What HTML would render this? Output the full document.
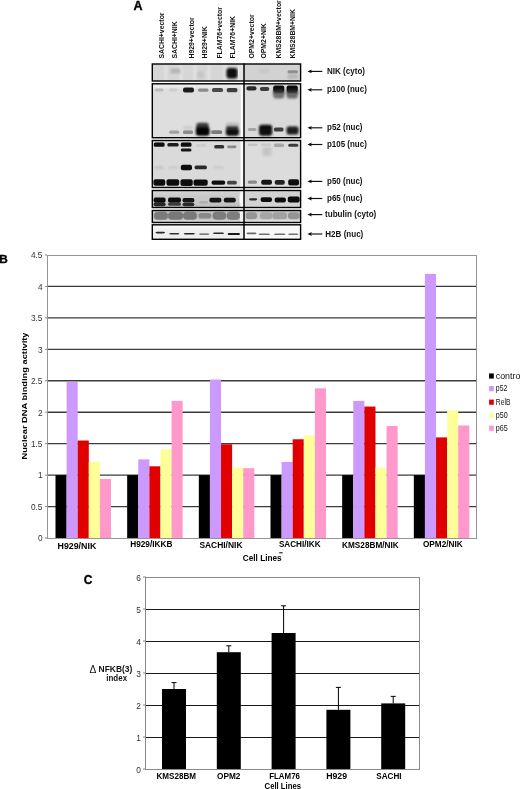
<!DOCTYPE html>
<html><head><meta charset="utf-8"><style>
html,body{margin:0;padding:0;background:#fff;}
body{width:520px;height:789px;overflow:hidden;}
svg{display:block;font-family:"Liberation Sans", sans-serif;will-change:transform;}
</style></head><body>
<svg width="520" height="789" viewBox="0 0 520 789">
<line x1="47" y1="506.56" x2="477" y2="506.56" stroke="#3c3c3c" stroke-width="1.35"/>
<line x1="47" y1="475.11" x2="477" y2="475.11" stroke="#3c3c3c" stroke-width="1.35"/>
<line x1="47" y1="443.67" x2="477" y2="443.67" stroke="#3c3c3c" stroke-width="1.35"/>
<line x1="47" y1="412.22" x2="477" y2="412.22" stroke="#3c3c3c" stroke-width="1.35"/>
<line x1="47" y1="380.78" x2="477" y2="380.78" stroke="#3c3c3c" stroke-width="1.35"/>
<line x1="47" y1="349.33" x2="477" y2="349.33" stroke="#3c3c3c" stroke-width="1.35"/>
<line x1="47" y1="317.89" x2="477" y2="317.89" stroke="#3c3c3c" stroke-width="1.35"/>
<line x1="47" y1="286.44" x2="477" y2="286.44" stroke="#3c3c3c" stroke-width="1.35"/>
<rect x="55.50" y="475.11" width="11.10" height="62.89" fill="#000000"/>
<rect x="66.60" y="382.04" width="11.10" height="155.96" fill="#cc99ff"/>
<rect x="77.70" y="440.52" width="11.10" height="97.48" fill="#e00000"/>
<rect x="88.80" y="461.90" width="11.10" height="76.10" fill="#ffff99"/>
<rect x="99.90" y="478.88" width="11.10" height="59.12" fill="#ff99cc"/>
<text x="57.50" y="549.00" font-size="8.4" font-weight="bold" textLength="38.8" lengthAdjust="spacingAndGlyphs">H929/NIK</text>
<rect x="127.17" y="475.11" width="11.10" height="62.89" fill="#000000"/>
<rect x="138.27" y="459.39" width="11.10" height="78.61" fill="#cc99ff"/>
<rect x="149.37" y="466.31" width="11.10" height="71.69" fill="#e00000"/>
<rect x="160.47" y="449.33" width="11.10" height="88.67" fill="#ffff99"/>
<rect x="171.57" y="400.90" width="11.10" height="137.10" fill="#ff99cc"/>
<text x="130.20" y="547.40" font-size="8.4" font-weight="bold" textLength="42.3" lengthAdjust="spacingAndGlyphs">H929/IKKB</text>
<rect x="198.83" y="475.11" width="11.10" height="62.89" fill="#000000"/>
<rect x="209.93" y="379.52" width="11.10" height="158.48" fill="#cc99ff"/>
<rect x="221.03" y="444.30" width="11.10" height="93.70" fill="#e00000"/>
<rect x="232.13" y="467.56" width="11.10" height="70.44" fill="#ffff99"/>
<rect x="243.23" y="468.19" width="11.10" height="69.81" fill="#ff99cc"/>
<text x="199.40" y="548.20" font-size="8.4" font-weight="bold" textLength="43.1" lengthAdjust="spacingAndGlyphs">SACHI/NIK</text>
<rect x="270.50" y="475.11" width="11.10" height="62.89" fill="#000000"/>
<rect x="281.60" y="461.90" width="11.10" height="76.10" fill="#cc99ff"/>
<rect x="292.70" y="439.26" width="11.10" height="98.74" fill="#e00000"/>
<rect x="303.80" y="435.49" width="11.10" height="102.51" fill="#ffff99"/>
<rect x="314.90" y="388.32" width="11.10" height="149.68" fill="#ff99cc"/>
<text x="278.90" y="546.80" font-size="8.4" font-weight="bold" textLength="41.7" lengthAdjust="spacingAndGlyphs">SACHI/IKK</text>
<rect x="342.17" y="475.11" width="11.10" height="62.89" fill="#000000"/>
<rect x="353.27" y="400.90" width="11.10" height="137.10" fill="#cc99ff"/>
<rect x="364.37" y="406.56" width="11.10" height="131.44" fill="#e00000"/>
<rect x="375.47" y="467.56" width="11.10" height="70.44" fill="#ffff99"/>
<rect x="386.57" y="426.06" width="11.10" height="111.94" fill="#ff99cc"/>
<text x="342.10" y="548.20" font-size="8.4" font-weight="bold" textLength="56.6" lengthAdjust="spacingAndGlyphs">KMS28BM/NIK</text>
<rect x="413.83" y="475.11" width="11.10" height="62.89" fill="#000000"/>
<rect x="424.93" y="273.87" width="11.10" height="264.13" fill="#cc99ff"/>
<rect x="436.03" y="437.38" width="11.10" height="100.62" fill="#e00000"/>
<rect x="447.13" y="410.34" width="11.10" height="127.66" fill="#ffff99"/>
<rect x="458.23" y="425.43" width="11.10" height="112.57" fill="#ff99cc"/>
<text x="422.90" y="547.30" font-size="8.4" font-weight="bold" textLength="39.8" lengthAdjust="spacingAndGlyphs">OPM2/NIK</text>
<rect x="47.5" y="255.5" width="429" height="283" fill="none" stroke="#959595" stroke-width="1"/>
<line x1="45" y1="538.00" x2="47" y2="538.00" stroke="#888" stroke-width="1"/>
<text x="42.5" y="541.30" font-size="8.3" fill="#333" text-anchor="end">0</text>
<line x1="45" y1="506.56" x2="47" y2="506.56" stroke="#888" stroke-width="1"/>
<text x="42.5" y="509.86" font-size="8.3" fill="#333" text-anchor="end">0.5</text>
<line x1="45" y1="475.11" x2="47" y2="475.11" stroke="#888" stroke-width="1"/>
<text x="42.5" y="478.41" font-size="8.3" fill="#333" text-anchor="end">1</text>
<line x1="45" y1="443.67" x2="47" y2="443.67" stroke="#888" stroke-width="1"/>
<text x="42.5" y="446.97" font-size="8.3" fill="#333" text-anchor="end">1.5</text>
<line x1="45" y1="412.22" x2="47" y2="412.22" stroke="#888" stroke-width="1"/>
<text x="42.5" y="415.52" font-size="8.3" fill="#333" text-anchor="end">2</text>
<line x1="45" y1="380.78" x2="47" y2="380.78" stroke="#888" stroke-width="1"/>
<text x="42.5" y="384.08" font-size="8.3" fill="#333" text-anchor="end">2.5</text>
<line x1="45" y1="349.33" x2="47" y2="349.33" stroke="#888" stroke-width="1"/>
<text x="42.5" y="352.63" font-size="8.3" fill="#333" text-anchor="end">3</text>
<line x1="45" y1="317.89" x2="47" y2="317.89" stroke="#888" stroke-width="1"/>
<text x="42.5" y="321.19" font-size="8.3" fill="#333" text-anchor="end">3.5</text>
<line x1="45" y1="286.44" x2="47" y2="286.44" stroke="#888" stroke-width="1"/>
<text x="42.5" y="289.74" font-size="8.3" fill="#333" text-anchor="end">4</text>
<line x1="45" y1="255.00" x2="47" y2="255.00" stroke="#888" stroke-width="1"/>
<text x="42.5" y="258.30" font-size="8.3" fill="#333" text-anchor="end">4.5</text>
<text transform="translate(27,396) rotate(-90)" font-size="8" font-weight="bold" text-anchor="middle" textLength="127" lengthAdjust="spacingAndGlyphs">Nuclear DNA binding activity</text>
<text x="242.8" y="560.6" font-size="8.3" font-weight="bold" textLength="38.8" lengthAdjust="spacingAndGlyphs">Cell Lines</text>
<rect x="279.2" y="552.1" width="3.4" height="1.3" fill="#333"/>
<text x="-0.7" y="262.6" font-size="11.8" font-weight="bold" stroke="#000" stroke-width="0.35">B</text>
<rect x="489.1" y="373.4" width="4.7" height="5.2" fill="#000000"/>
<text x="495.8" y="378.5" font-size="8.6" fill="#111" textLength="26.5" lengthAdjust="spacingAndGlyphs">control</text>
<rect x="489.1" y="386.0" width="4.7" height="5.2" fill="#cc99ff"/>
<text x="495.8" y="391.1" font-size="8.6" fill="#111" textLength="11.5" lengthAdjust="spacingAndGlyphs">p52</text>
<rect x="489.1" y="399.6" width="4.7" height="5.2" fill="#e00000"/>
<text x="495.8" y="404.7" font-size="8.6" fill="#111" textLength="14.6" lengthAdjust="spacingAndGlyphs">RelB</text>
<rect x="489.1" y="412.9" width="4.7" height="5.2" fill="#ffff99"/>
<text x="495.8" y="418.0" font-size="8.6" fill="#111" textLength="11.9" lengthAdjust="spacingAndGlyphs">p50</text>
<rect x="489.1" y="425.7" width="4.7" height="5.2" fill="#ff99cc"/>
<text x="495.8" y="430.8" font-size="8.6" fill="#111" textLength="11.9" lengthAdjust="spacingAndGlyphs">p65</text>
<line x1="146" y1="737.50" x2="420" y2="737.50" stroke="#1a1a1a" stroke-width="1.1"/>
<line x1="146" y1="705.50" x2="420" y2="705.50" stroke="#1a1a1a" stroke-width="1.1"/>
<line x1="146" y1="673.50" x2="420" y2="673.50" stroke="#1a1a1a" stroke-width="1.1"/>
<line x1="146" y1="641.50" x2="420" y2="641.50" stroke="#1a1a1a" stroke-width="1.1"/>
<line x1="146" y1="609.50" x2="420" y2="609.50" stroke="#1a1a1a" stroke-width="1.1"/>
<line x1="174.00" y1="689.00" x2="174.00" y2="682.60" stroke="#000" stroke-width="1"/>
<line x1="171.50" y1="682.60" x2="176.50" y2="682.60" stroke="#000" stroke-width="1"/>
<rect x="162.00" y="689.00" width="24" height="80.00" fill="#000"/>
<text x="156.50" y="779.4" font-size="8.2" font-weight="bold" textLength="39.5" lengthAdjust="spacingAndGlyphs">KMS28BM</text>
<line x1="228.80" y1="652.20" x2="228.80" y2="645.80" stroke="#000" stroke-width="1"/>
<line x1="226.30" y1="645.80" x2="231.30" y2="645.80" stroke="#000" stroke-width="1"/>
<rect x="216.80" y="652.20" width="24" height="116.80" fill="#000"/>
<text x="217.00" y="779.4" font-size="8.2" font-weight="bold" textLength="23.4" lengthAdjust="spacingAndGlyphs">OPM2</text>
<line x1="283.60" y1="633.00" x2="283.60" y2="605.80" stroke="#000" stroke-width="1"/>
<line x1="281.10" y1="605.80" x2="286.10" y2="605.80" stroke="#000" stroke-width="1"/>
<rect x="271.60" y="633.00" width="24" height="136.00" fill="#000"/>
<text x="269.20" y="779.4" font-size="8.2" font-weight="bold" textLength="30.8" lengthAdjust="spacingAndGlyphs">FLAM76</text>
<line x1="338.40" y1="709.80" x2="338.40" y2="687.40" stroke="#000" stroke-width="1"/>
<line x1="335.90" y1="687.40" x2="340.90" y2="687.40" stroke="#000" stroke-width="1"/>
<rect x="326.40" y="709.80" width="24" height="59.20" fill="#000"/>
<text x="326.20" y="779.4" font-size="8.2" font-weight="bold" textLength="20.9" lengthAdjust="spacingAndGlyphs">H929</text>
<line x1="393.20" y1="703.40" x2="393.20" y2="696.36" stroke="#000" stroke-width="1"/>
<line x1="390.70" y1="696.36" x2="395.70" y2="696.36" stroke="#000" stroke-width="1"/>
<rect x="381.20" y="703.40" width="24" height="65.60" fill="#000"/>
<text x="376.30" y="779.4" font-size="8.2" font-weight="bold" textLength="25.2" lengthAdjust="spacingAndGlyphs">SACHI</text>
<rect x="145.5" y="577.5" width="274" height="192" fill="none" stroke="#8a8a8a" stroke-width="1"/>
<line x1="143" y1="769.00" x2="146" y2="769.00" stroke="#888" stroke-width="1"/>
<text x="141" y="772.80" font-size="8.4" fill="#333" text-anchor="end">0</text>
<line x1="143" y1="737.00" x2="146" y2="737.00" stroke="#888" stroke-width="1"/>
<text x="141" y="740.80" font-size="8.4" fill="#333" text-anchor="end">1</text>
<line x1="143" y1="705.00" x2="146" y2="705.00" stroke="#888" stroke-width="1"/>
<text x="141" y="708.80" font-size="8.4" fill="#333" text-anchor="end">2</text>
<line x1="143" y1="673.00" x2="146" y2="673.00" stroke="#888" stroke-width="1"/>
<text x="141" y="676.80" font-size="8.4" fill="#333" text-anchor="end">3</text>
<line x1="143" y1="641.00" x2="146" y2="641.00" stroke="#888" stroke-width="1"/>
<text x="141" y="644.80" font-size="8.4" fill="#333" text-anchor="end">4</text>
<line x1="143" y1="609.00" x2="146" y2="609.00" stroke="#888" stroke-width="1"/>
<text x="141" y="612.80" font-size="8.4" fill="#333" text-anchor="end">5</text>
<line x1="143" y1="577.00" x2="146" y2="577.00" stroke="#888" stroke-width="1"/>
<text x="141" y="580.80" font-size="8.4" fill="#333" text-anchor="end">6</text>
<text x="264.6" y="789" font-size="8.2" font-weight="bold" textLength="36.4" lengthAdjust="spacingAndGlyphs">Cell Lines</text>
<text x="83.8" y="584" font-size="12" font-weight="bold" stroke="#000" stroke-width="0.35">C</text>
<text x="89.6" y="672.7" font-size="10.2" fill="#111">&#916;</text>
<text x="98.6" y="671.6" font-size="8.3" font-weight="bold" textLength="33.7" lengthAdjust="spacingAndGlyphs" fill="#111">NFKB(3)</text>
<text x="106.3" y="680.8" font-size="8.3" font-weight="bold" textLength="20.8" lengthAdjust="spacingAndGlyphs" fill="#111">index</text>
<text x="133.4" y="9.8" font-size="12.5" font-weight="bold" stroke="#000" stroke-width="0.35">A</text>
<defs>
<filter id="bl1" x="-50%" y="-100%" width="200%" height="300%"><feGaussianBlur stdDeviation="0.72"/></filter>
<filter id="bl2" x="-50%" y="-100%" width="200%" height="300%"><feGaussianBlur stdDeviation="1.3"/></filter>
<filter id="bl3" x="-50%" y="-100%" width="200%" height="300%"><feGaussianBlur stdDeviation="1.6"/></filter>
</defs>
<clipPath id="cpL0"><rect x="152.3" y="64.0" width="91.69999999999999" height="17.0"/></clipPath>
<clipPath id="cpR0"><rect x="244.0" y="64.0" width="56.60000000000002" height="17.0"/></clipPath>
<clipPath id="cpL1"><rect x="152.3" y="83.8" width="91.69999999999999" height="53.89999999999999"/></clipPath>
<clipPath id="cpR1"><rect x="244.0" y="83.8" width="56.60000000000002" height="53.89999999999999"/></clipPath>
<clipPath id="cpL2"><rect x="152.3" y="140.5" width="91.69999999999999" height="47.0"/></clipPath>
<clipPath id="cpR2"><rect x="244.0" y="140.5" width="56.60000000000002" height="47.0"/></clipPath>
<clipPath id="cpL3"><rect x="152.3" y="190.5" width="91.69999999999999" height="17.0"/></clipPath>
<clipPath id="cpR3"><rect x="244.0" y="190.5" width="56.60000000000002" height="17.0"/></clipPath>
<clipPath id="cpL4"><rect x="152.3" y="210.5" width="91.69999999999999" height="12.0"/></clipPath>
<clipPath id="cpR4"><rect x="244.0" y="210.5" width="56.60000000000002" height="12.0"/></clipPath>
<clipPath id="cpL5"><rect x="152.3" y="224.8" width="91.69999999999999" height="14.5"/></clipPath>
<clipPath id="cpR5"><rect x="244.0" y="224.8" width="56.60000000000002" height="14.5"/></clipPath>
<g clip-path="url(#cpL0)">
<rect x="152.3" y="64.0" width="91.69999999999999" height="17.0" fill="#d6d6d6"/>
<rect x="164.5" y="64.0" width="3.0" height="17.0" rx="0" fill="#e2e2e2" filter="url(#bl2)"/>
<rect x="179.5" y="64.0" width="3.0" height="17.0" rx="0" fill="#e2e2e2" filter="url(#bl2)"/>
<rect x="193.5" y="64.0" width="3.0" height="17.0" rx="0" fill="#e2e2e2" filter="url(#bl2)"/>
<rect x="207.5" y="64.0" width="3.0" height="17.0" rx="0" fill="#e2e2e2" filter="url(#bl2)"/>
<rect x="223.5" y="64.0" width="3.0" height="17.0" rx="0" fill="#e2e2e2" filter="url(#bl2)"/>
<rect x="170.5" y="68.5" width="10.0" height="5.0" rx="1.5" fill="#b6b6b6" filter="url(#bl2)"/>
<rect x="197.5" y="71.5" width="6.5" height="7.0" rx="1.5" fill="#c4c4c4" filter="url(#bl2)"/>
<rect x="226.5" y="68.0" width="11.0" height="10.5" rx="3" fill="#0c0c0c" filter="url(#bl2)"/>
<rect x="238.0" y="64.0" width="6.0" height="17.0" rx="0" fill="#e4e4e4" filter="url(#bl1)"/>
</g>
<g clip-path="url(#cpR0)">
<rect x="244.0" y="64.0" width="56.60000000000002" height="17.0" fill="#d2d2d2"/>
<rect x="287.5" y="70.3" width="10.5" height="3.2" rx="1.5" fill="#8e8e8e" filter="url(#bl1)"/>
<rect x="287.5" y="74.0" width="10.5" height="5.0" rx="1.5" fill="#b8b8b8" filter="url(#bl2)"/>
<rect x="259.0" y="69.0" width="11.0" height="4.0" rx="1.5" fill="#c8c8c8" filter="url(#bl2)"/>
</g>
<g clip-path="url(#cpL1)">
<rect x="152.3" y="83.8" width="91.69999999999999" height="53.89999999999999" fill="#dedede"/>
<rect x="152.0" y="83.5" width="92.0" height="4.5" rx="0" fill="#ececec" filter="url(#bl2)"/>
<rect x="240.8" y="83.0" width="3.2" height="55.0" rx="0" fill="#fafafa" filter="url(#bl1)"/>
<rect x="154.5" y="88.5" width="9.0" height="3.0" rx="1.5" fill="#bcbcbc" filter="url(#bl1)"/>
<rect x="169.0" y="88.5" width="8.5" height="3.0" rx="1.5" fill="#cecece" filter="url(#bl1)"/>
<rect x="183.0" y="87.5" width="11.0" height="5.0" rx="2" fill="#1e1e1e" filter="url(#bl1)"/>
<rect x="198.0" y="88.5" width="10.5" height="3.3" rx="1.5" fill="#8c8c8c" filter="url(#bl1)"/>
<rect x="212.0" y="88.0" width="11.0" height="4.0" rx="1.5" fill="#4a4a4a" filter="url(#bl1)"/>
<rect x="226.8" y="88.0" width="10.6" height="4.2" rx="1.5" fill="#404040" filter="url(#bl1)"/>
<rect x="169.2" y="130.5" width="10.1" height="3.3" rx="1.5" fill="#a0a0a0" filter="url(#bl1)"/>
<rect x="183.0" y="130.3" width="10.0" height="3.7" rx="1.5" fill="#8c8c8c" filter="url(#bl1)"/>
<rect x="183.0" y="126.0" width="10.0" height="3.5" rx="1.5" fill="#cccccc" filter="url(#bl2)"/>
<rect x="196.2" y="122.8" width="12.6" height="7.2" rx="3" fill="#3a3a3a" filter="url(#bl2)"/>
<rect x="195.8" y="127.2" width="13.8" height="8.6" rx="3" fill="#050505" filter="url(#bl2)"/>
<rect x="211.2" y="130.3" width="11.0" height="3.7" rx="1.5" fill="#7c7c7c" filter="url(#bl1)"/>
<rect x="226.2" y="125.0" width="12.2" height="6.0" rx="2" fill="#484848" filter="url(#bl2)"/>
<rect x="225.8" y="128.8" width="13.2" height="7.0" rx="3" fill="#080808" filter="url(#bl2)"/>
<rect x="226.0" y="122.5" width="12.6" height="3.0" rx="1.5" fill="#bdbdbd" filter="url(#bl2)"/>
</g>
<g clip-path="url(#cpR1)">
<rect x="244.0" y="83.8" width="56.60000000000002" height="53.89999999999999" fill="#dadada"/>
<rect x="246.4" y="86.2" width="10.1" height="4.3" rx="2" fill="#2c2c2c" filter="url(#bl1)"/>
<rect x="259.9" y="87.0" width="9.4" height="4.0" rx="2" fill="#3c3c3c" filter="url(#bl1)"/>
<rect x="273.2" y="85.6" width="11.1" height="6.4" rx="2" fill="#101010" filter="url(#bl1)"/>
<rect x="273.2" y="89.5" width="11.1" height="5.5" rx="2" fill="#2c2c2c" filter="url(#bl2)"/>
<rect x="273.4" y="93.0" width="10.7" height="5.5" rx="2" fill="#707070" filter="url(#bl2)"/>
<rect x="286.6" y="85.6" width="11.2" height="6.4" rx="2" fill="#0c0c0c" filter="url(#bl1)"/>
<rect x="286.6" y="89.5" width="11.2" height="5.5" rx="2" fill="#262626" filter="url(#bl2)"/>
<rect x="286.8" y="93.0" width="10.8" height="5.5" rx="2" fill="#6a6a6a" filter="url(#bl2)"/>
<rect x="247.8" y="128.0" width="8.7" height="3.0" rx="1.5" fill="#a4a4a4" filter="url(#bl1)"/>
<rect x="259.0" y="124.8" width="13.2" height="11.0" rx="3" fill="#080808" filter="url(#bl2)"/>
<rect x="274.0" y="127.5" width="9.5" height="4.0" rx="1.5" fill="#3c3c3c" filter="url(#bl1)"/>
<rect x="286.6" y="126.4" width="11.9" height="8.0" rx="2" fill="#1c1c1c" filter="url(#bl2)"/>
</g>
<g clip-path="url(#cpL2)">
<rect x="152.3" y="140.5" width="91.69999999999999" height="47.0" fill="#dadada"/>
<rect x="240.5" y="140.0" width="3.5" height="48.0" rx="0" fill="#fafafa" filter="url(#bl1)"/>
<rect x="153.8" y="142.6" width="10.8" height="4.2" rx="1.5" fill="#0c0c0c" filter="url(#bl1)"/>
<rect x="167.3" y="142.9" width="11.4" height="3.7" rx="1.5" fill="#1e1e1e" filter="url(#bl1)"/>
<rect x="180.8" y="142.6" width="10.7" height="4.2" rx="1.5" fill="#0c0c0c" filter="url(#bl1)"/>
<rect x="180.8" y="148.6" width="10.7" height="3.0" rx="1.5" fill="#161616" filter="url(#bl1)"/>
<rect x="196.0" y="144.0" width="10.0" height="3.0" rx="1.5" fill="#cccccc" filter="url(#bl1)"/>
<rect x="214.2" y="145.0" width="10.0" height="3.6" rx="1.5" fill="#333333" filter="url(#bl1)"/>
<rect x="227.0" y="145.4" width="9.5" height="2.8" rx="1.5" fill="#888888" filter="url(#bl1)"/>
<rect x="154.0" y="166.0" width="10.0" height="3.0" rx="1.5" fill="#c6c6c6" filter="url(#bl2)"/>
<rect x="168.0" y="166.0" width="10.0" height="3.0" rx="1.5" fill="#cbcbcb" filter="url(#bl2)"/>
<rect x="180.8" y="164.8" width="11.2" height="5.4" rx="2" fill="#0e0e0e" filter="url(#bl1)"/>
<rect x="194.6" y="165.6" width="12.3" height="3.6" rx="1.5" fill="#2a2a2a" filter="url(#bl1)"/>
<rect x="213.0" y="166.0" width="11.0" height="3.0" rx="1.5" fill="#cccccc" filter="url(#bl2)"/>
<rect x="153.5" y="179.2" width="11.7" height="6.6" rx="2" fill="#0a0a0a" filter="url(#bl1)"/>
<rect x="166.5" y="179.2" width="12.7" height="6.6" rx="2" fill="#0c0c0c" filter="url(#bl1)"/>
<rect x="180.5" y="179.2" width="12.2" height="6.8" rx="2" fill="#0a0a0a" filter="url(#bl1)"/>
<rect x="193.5" y="179.4" width="14.2" height="6.4" rx="2" fill="#101010" filter="url(#bl1)"/>
<rect x="211.5" y="180.5" width="13.7" height="4.2" rx="2" fill="#0e0e0e" filter="url(#bl1)"/>
<rect x="227.0" y="180.8" width="9.8" height="3.8" rx="1.5" fill="#444444" filter="url(#bl1)"/>
</g>
<g clip-path="url(#cpR2)">
<rect x="244.0" y="140.5" width="56.60000000000002" height="47.0" fill="#dcdcdc"/>
<rect x="247.8" y="143.4" width="9.4" height="2.7" rx="1.5" fill="#c2c2c2" filter="url(#bl1)"/>
<rect x="261.0" y="143.6" width="10.0" height="2.4" rx="1.5" fill="#cacaca" filter="url(#bl1)"/>
<rect x="262.6" y="147.0" width="8.7" height="9.0" rx="1.5" fill="#c4c4c4" filter="url(#bl3)"/>
<rect x="274.0" y="143.5" width="10.1" height="3.5" rx="1.5" fill="#a8a8a8" filter="url(#bl1)"/>
<rect x="288.2" y="143.8" width="10.1" height="3.0" rx="1.5" fill="#3e3e3e" filter="url(#bl1)"/>
<rect x="247.8" y="180.4" width="9.2" height="3.4" rx="1.5" fill="#888888" filter="url(#bl1)"/>
<rect x="261.2" y="179.7" width="10.8" height="5.0" rx="2" fill="#181818" filter="url(#bl1)"/>
<rect x="274.7" y="179.9" width="10.1" height="4.8" rx="2" fill="#222222" filter="url(#bl1)"/>
<rect x="288.2" y="179.2" width="10.8" height="6.3" rx="2" fill="#111111" filter="url(#bl1)"/>
</g>
<g clip-path="url(#cpL3)">
<rect x="152.3" y="190.5" width="91.69999999999999" height="17.0" fill="#c9c9c9"/>
<rect x="239.5" y="190.0" width="4.5" height="18.0" rx="0" fill="#fafafa" filter="url(#bl1)"/>
<rect x="152.0" y="190.0" width="88.0" height="4.5" rx="0" fill="#d2d2d2" filter="url(#bl2)"/>
<rect x="152.0" y="203.0" width="88.0" height="5.0" rx="0" fill="#c0c0c0" filter="url(#bl2)"/>
<rect x="153.6" y="197.6" width="12.0" height="5.2" rx="2" fill="#0e0e0e" filter="url(#bl1)"/>
<rect x="153.6" y="202.5" width="12.0" height="3.7" rx="2" fill="#262626" filter="url(#bl1)"/>
<rect x="168.0" y="197.6" width="13.0" height="5.2" rx="2" fill="#0e0e0e" filter="url(#bl1)"/>
<rect x="168.0" y="202.5" width="13.0" height="3.3" rx="2" fill="#3a3a3a" filter="url(#bl1)"/>
<rect x="182.5" y="198.0" width="11.9" height="4.4" rx="2" fill="#121212" filter="url(#bl1)"/>
<rect x="182.5" y="202.8" width="11.9" height="3.4" rx="2" fill="#2a2a2a" filter="url(#bl1)"/>
<rect x="199.0" y="201.0" width="9.0" height="2.5" rx="1.5" fill="#b0b0b0" filter="url(#bl1)"/>
<rect x="209.4" y="197.8" width="12.0" height="4.8" rx="2" fill="#121212" filter="url(#bl1)"/>
<rect x="223.8" y="197.8" width="12.0" height="4.8" rx="2" fill="#121212" filter="url(#bl1)"/>
</g>
<g clip-path="url(#cpR3)">
<rect x="244.0" y="190.5" width="56.60000000000002" height="17.0" fill="#d2d2d2"/>
<rect x="249.1" y="198.2" width="8.1" height="2.2" rx="1.5" fill="#2a2a2a" filter="url(#bl1)"/>
<rect x="260.6" y="197.2" width="11.4" height="4.8" rx="2" fill="#0e0e0e" filter="url(#bl1)"/>
<rect x="274.7" y="197.5" width="11.2" height="5.0" rx="2" fill="#0e0e0e" filter="url(#bl1)"/>
<rect x="287.8" y="196.6" width="11.8" height="6.0" rx="2" fill="#080808" filter="url(#bl1)"/>
</g>
<g clip-path="url(#cpL4)">
<rect x="152.3" y="210.5" width="91.69999999999999" height="12.0" fill="#dcdcdc"/>
<rect x="152" y="210" width="88" height="13" fill="#bcbcbc"/>
<rect x="239.8" y="210.0" width="4.2" height="13.0" rx="0" fill="#f4f4f4" filter="url(#bl1)"/>
<rect x="152.0" y="219.8" width="88.0" height="3.2" rx="0" fill="#dadada" filter="url(#bl2)"/>
<rect x="152.0" y="209.0" width="88.0" height="3.0" rx="0" fill="#cfcfcf" filter="url(#bl2)"/>
<rect x="154.0" y="211.8" width="14.0" height="8.0" rx="4" fill="#7a7a7a" filter="url(#bl1)"/>
<rect x="168.0" y="211.8" width="15.2" height="8.0" rx="4" fill="#787878" filter="url(#bl1)"/>
<rect x="183.0" y="211.8" width="14.0" height="8.0" rx="4" fill="#7a7a7a" filter="url(#bl1)"/>
<rect x="198.4" y="213.0" width="13.0" height="5.6" rx="3" fill="#8a8a8a" filter="url(#bl1)"/>
<rect x="212.6" y="211.8" width="13.6" height="8.0" rx="4" fill="#7c7c7c" filter="url(#bl1)"/>
<rect x="226.6" y="211.8" width="13.4" height="8.0" rx="4" fill="#7e7e7e" filter="url(#bl1)"/>
</g>
<g clip-path="url(#cpR4)">
<rect x="244.0" y="210.5" width="56.60000000000002" height="12.0" fill="#dedede"/>
<rect x="244" y="210" width="57" height="13" fill="#c8c8c8"/>
<rect x="244.0" y="219.5" width="57.0" height="3.5" rx="0" fill="#e0e0e0" filter="url(#bl2)"/>
<rect x="245.8" y="212.2" width="11.2" height="7.1" rx="3" fill="#959595" filter="url(#bl1)"/>
<rect x="260.0" y="212.2" width="12.4" height="7.1" rx="3" fill="#a6a6a6" filter="url(#bl1)"/>
<rect x="272.4" y="212.2" width="14.6" height="7.1" rx="3" fill="#a2a2a2" filter="url(#bl1)"/>
<rect x="288.0" y="212.2" width="11.4" height="7.1" rx="3" fill="#949494" filter="url(#bl1)"/>
</g>
<filter id="bl0" x="-50%" y="-100%" width="200%" height="300%"><feGaussianBlur stdDeviation="0.55"/></filter>
<g clip-path="url(#cpL5)">
<rect x="152.3" y="224.8" width="91.69999999999999" height="14.5" fill="#eeeeee"/>
<rect x="152.0" y="225.0" width="88.0" height="4.0" rx="0" fill="#f6f6f6" filter="url(#bl2)"/>
<rect x="155.5" y="231.8" width="9.5" height="1.6" rx="1.5" fill="#262626" filter="url(#bl0)"/>
<rect x="169.2" y="233.0" width="10.1" height="1.5" rx="1.5" fill="#303030" filter="url(#bl0)"/>
<rect x="183.8" y="233.0" width="11.0" height="1.6" rx="1.5" fill="#262626" filter="url(#bl0)"/>
<rect x="199.0" y="233.4" width="10.4" height="1.3" rx="1.5" fill="#555555" filter="url(#bl0)"/>
<rect x="213.0" y="232.6" width="11.0" height="1.5" rx="1.5" fill="#2a2a2a" filter="url(#bl0)"/>
<rect x="227.7" y="233.0" width="12.3" height="2.0" rx="1.5" fill="#141414" filter="url(#bl0)"/>
</g>
<g clip-path="url(#cpR5)">
<rect x="244.0" y="224.8" width="56.60000000000002" height="14.5" fill="#f8f8f8"/>
<rect x="246.5" y="232.4" width="10.0" height="1.9" rx="1.5" fill="#666666" filter="url(#bl0)"/>
<rect x="258.5" y="233.4" width="11.5" height="1.6" rx="1.5" fill="#6e6e6e" filter="url(#bl0)"/>
<rect x="274.0" y="233.4" width="11.5" height="1.6" rx="1.5" fill="#6e6e6e" filter="url(#bl0)"/>
<rect x="288.2" y="233.4" width="10.1" height="1.6" rx="1.5" fill="#707070" filter="url(#bl0)"/>
</g>
<rect x="152.3" y="64.0" width="148.3" height="17.0" fill="none" stroke="#000" stroke-width="1.4"/>
<rect x="152.3" y="83.8" width="148.3" height="53.89999999999999" fill="none" stroke="#000" stroke-width="1.4"/>
<rect x="152.3" y="140.5" width="148.3" height="47.0" fill="none" stroke="#000" stroke-width="1.4"/>
<rect x="152.3" y="190.5" width="148.3" height="17.0" fill="none" stroke="#000" stroke-width="1.4"/>
<rect x="152.3" y="210.5" width="148.3" height="12.0" fill="none" stroke="#000" stroke-width="1.4"/>
<rect x="152.3" y="224.8" width="148.3" height="14.5" fill="none" stroke="#000" stroke-width="1.4"/>
<line x1="244.0" y1="63.5" x2="244.0" y2="240" stroke="#000" stroke-width="1.5"/>
<line x1="309" y1="71.4" x2="322.3" y2="71.4" stroke="#111" stroke-width="1.15"/>
<path d="M307.4 71.4 L311.8 69.5 L311.0 71.4 L311.8 73.3 Z" fill="#111"/>
<text x="327" y="74.0" font-size="8.3" font-weight="bold" fill="#111" textLength="38" lengthAdjust="spacingAndGlyphs">NIK&#160;(cyto)</text>
<line x1="309" y1="89.8" x2="322.3" y2="89.8" stroke="#111" stroke-width="1.15"/>
<path d="M307.4 89.8 L311.8 87.9 L311.0 89.8 L311.8 91.7 Z" fill="#111"/>
<text x="327" y="92.4" font-size="8.3" font-weight="bold" fill="#111" textLength="39.8" lengthAdjust="spacingAndGlyphs">p100&#160;(nuc)</text>
<line x1="309" y1="127.8" x2="322.3" y2="127.8" stroke="#111" stroke-width="1.15"/>
<path d="M307.4 127.8 L311.8 125.9 L311.0 127.8 L311.8 129.7 Z" fill="#111"/>
<text x="327" y="130.4" font-size="8.3" font-weight="bold" fill="#111" textLength="35.5" lengthAdjust="spacingAndGlyphs">p52&#160;(nuc)</text>
<line x1="309" y1="144.5" x2="322.3" y2="144.5" stroke="#111" stroke-width="1.15"/>
<path d="M307.4 144.5 L311.8 142.6 L311.0 144.5 L311.8 146.4 Z" fill="#111"/>
<text x="327" y="147.1" font-size="8.3" font-weight="bold" fill="#111" textLength="39.8" lengthAdjust="spacingAndGlyphs">p105&#160;(nuc)</text>
<line x1="309" y1="181.4" x2="322.3" y2="181.4" stroke="#111" stroke-width="1.15"/>
<path d="M307.4 181.4 L311.8 179.5 L311.0 181.4 L311.8 183.3 Z" fill="#111"/>
<text x="327" y="184.0" font-size="8.3" font-weight="bold" fill="#111" textLength="35.5" lengthAdjust="spacingAndGlyphs">p50&#160;(nuc)</text>
<line x1="309" y1="198.5" x2="322.3" y2="198.5" stroke="#111" stroke-width="1.15"/>
<path d="M307.4 198.5 L311.8 196.6 L311.0 198.5 L311.8 200.4 Z" fill="#111"/>
<text x="327" y="201.1" font-size="8.3" font-weight="bold" fill="#111" textLength="35.5" lengthAdjust="spacingAndGlyphs">p65&#160;(nuc)</text>
<line x1="309" y1="214.6" x2="322.3" y2="214.6" stroke="#111" stroke-width="1.15"/>
<path d="M307.4 214.6 L311.8 212.7 L311.0 214.6 L311.8 216.5 Z" fill="#111"/>
<text x="325" y="217.2" font-size="8.3" font-weight="bold" fill="#111" textLength="51.3" lengthAdjust="spacingAndGlyphs">tubulin&#160;(cyto)</text>
<line x1="309" y1="234.0" x2="322.3" y2="234.0" stroke="#111" stroke-width="1.15"/>
<path d="M307.4 234.0 L311.8 232.1 L311.0 234.0 L311.8 235.9 Z" fill="#111"/>
<text x="325.3" y="236.6" font-size="8.3" font-weight="bold" fill="#111" textLength="38" lengthAdjust="spacingAndGlyphs">H2B&#160;(nuc)</text>
<text transform="translate(164.2,58.6) rotate(-90)" font-size="6.9" font-weight="bold" fill="#111">SACHI+vector</text>
<text transform="translate(177.1,58.6) rotate(-90)" font-size="6.9" font-weight="bold" fill="#111">SACHI+NIK</text>
<text transform="translate(193.8,58.6) rotate(-90)" font-size="6.9" font-weight="bold" fill="#111">H929+vector</text>
<text transform="translate(207,58.6) rotate(-90)" font-size="6.9" font-weight="bold" fill="#111">H929+NIK</text>
<text transform="translate(221.5,58.6) rotate(-90)" font-size="6.9" font-weight="bold" fill="#111">FLAM76+vector</text>
<text transform="translate(234.6,58.6) rotate(-90)" font-size="6.9" font-weight="bold" fill="#111">FLAM76+NIK</text>
<text transform="translate(254.2,58.6) rotate(-90)" font-size="6.9" font-weight="bold" fill="#111">OPM2+vector</text>
<text transform="translate(266.2,58.6) rotate(-90)" font-size="6.9" font-weight="bold" fill="#111">OPM2+NIK</text>
<text transform="translate(280.8,58.6) rotate(-90)" font-size="6.9" font-weight="bold" fill="#111">KMS28BM+vector</text>
<text transform="translate(294.6,58.6) rotate(-90)" font-size="6.9" font-weight="bold" fill="#111">KMS28BM+NIK</text>
</svg>
</body></html>
